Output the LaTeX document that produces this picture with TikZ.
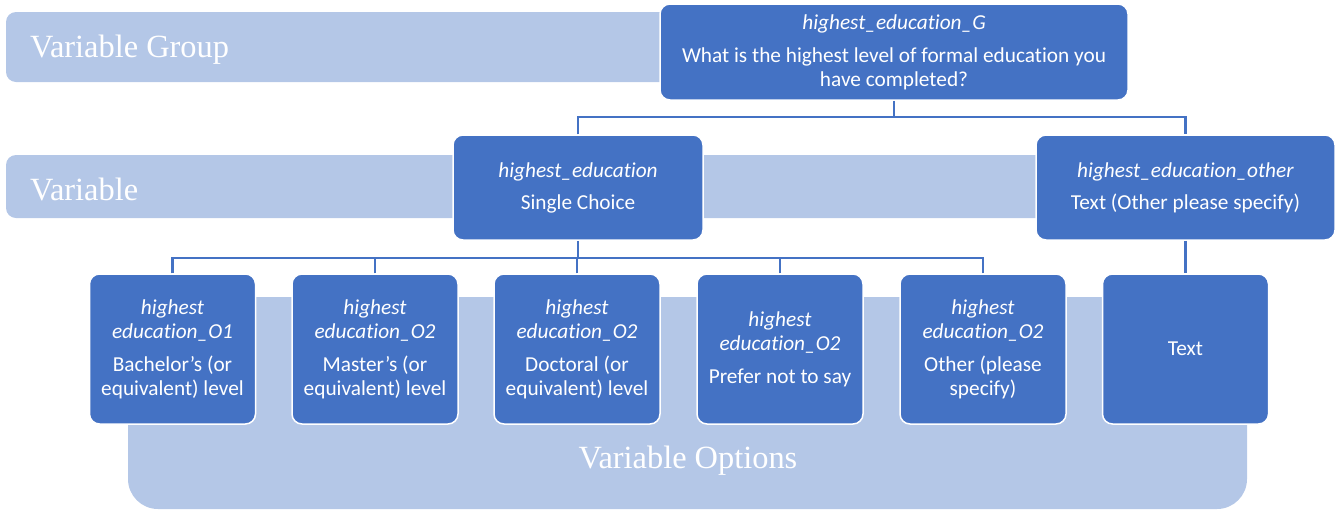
\documentclass[tikz,border=0pt]{standalone}
\usepackage{fontspec}
\newfontfamily\carl[Ligatures=NoCommon]{Carlito}
\newfontfamily\tnr{Liberation Serif}
\definecolor{dblue}{HTML}{4472C4}
\definecolor{lblue}{HTML}{B4C7E7}
\definecolor{lineblue}{HTML}{4472C4}
\begin{document}
\begin{tikzpicture}[x=1pt,y=-1pt,
  box/.style={fill=dblue, draw=white, line width=1.5pt, rounded corners=10pt, text=white, align=center, inner sep=0pt, font=\carl\fontsize{21.3}{24}\selectfont},
  optbox/.style={box, minimum width=166pt, minimum height=150pt},
  varbox/.style={box, minimum height=105pt},
  band/.style={fill=lblue},
  bandlabel/.style={text=white, font=\tnr\fontsize{32.4}{36}\selectfont, inner sep=0pt},
  conn/.style={draw=lineblue, line width=2.3pt}]
\useasboundingbox (0,0) rectangle (1335,509);
% bands
\fill[band, rounded corners=10pt] (6,12) rectangle (720,82);
\fill[band, rounded corners=10pt] (6,155) rectangle (1100,218);
\fill[band, rounded corners=30pt] (128,297) rectangle (1247,509);
\node[bandlabel, anchor=base west] (lg) at (30,57.5) {Variable Group};
\node[bandlabel, anchor=base west] (lv) at (30,200.5) {Variable};
\node[bandlabel, anchor=base] (lo) at (688,468) {Variable Options};
% boxes
\node[box, minimum width=468pt, minimum height=96pt] (top) at (894,52)
  {\textit{highest\_education\_G}\\[9pt]What is the highest level of formal education you\\have completed?};
\node[varbox, minimum width=250pt] (he) at (578,187.5)
  {\textit{highest\_education}\\[8pt]Single Choice};
\node[varbox, minimum width=299pt] (oth) at (1185.5,187.5)
  {\textit{highest\_education\_other}\\[8pt]Text (Other please specify)};
\node[optbox] (o1) at (172.5,349)
  {\textit{highest}\\\textit{education\_O1}\\[9pt]Bachelor’s (or\\equivalent) level};
\node[optbox] (o2) at (375,349)
  {\textit{highest}\\\textit{education\_O2}\\[9pt]Master’s (or\\equivalent) level};
\node[optbox] (o3) at (577,349)
  {\textit{highest}\\\textit{education\_O2}\\[9pt]Doctoral (or\\equivalent) level};
\node[optbox] (o4) at (780,349)
  {\textit{highest}\\\textit{education\_O2}\\[9pt]Prefer not to say};
\node[optbox] (o5) at (983,349)
  {\textit{highest}\\\textit{education\_O2}\\[9pt]Other (please\\specify)};
\node[optbox] (o6) at (1185.5,349) {Text};
% connectors
\coordinate (bus1) at (894,117);
\coordinate (bus2) at (578,258);
\draw[conn] (top.south) -- (bus1);
\draw[conn] (he.north) |- (bus1) -| (oth.north);
\draw[conn] (he.south) -- (bus2);
\foreach \o in {o1,o2,o3,o4,o5} \draw[conn] (\o.north) |- (bus2);
\draw[conn] (oth.south) -- (o6.north);
\end{tikzpicture}
\end{document}
